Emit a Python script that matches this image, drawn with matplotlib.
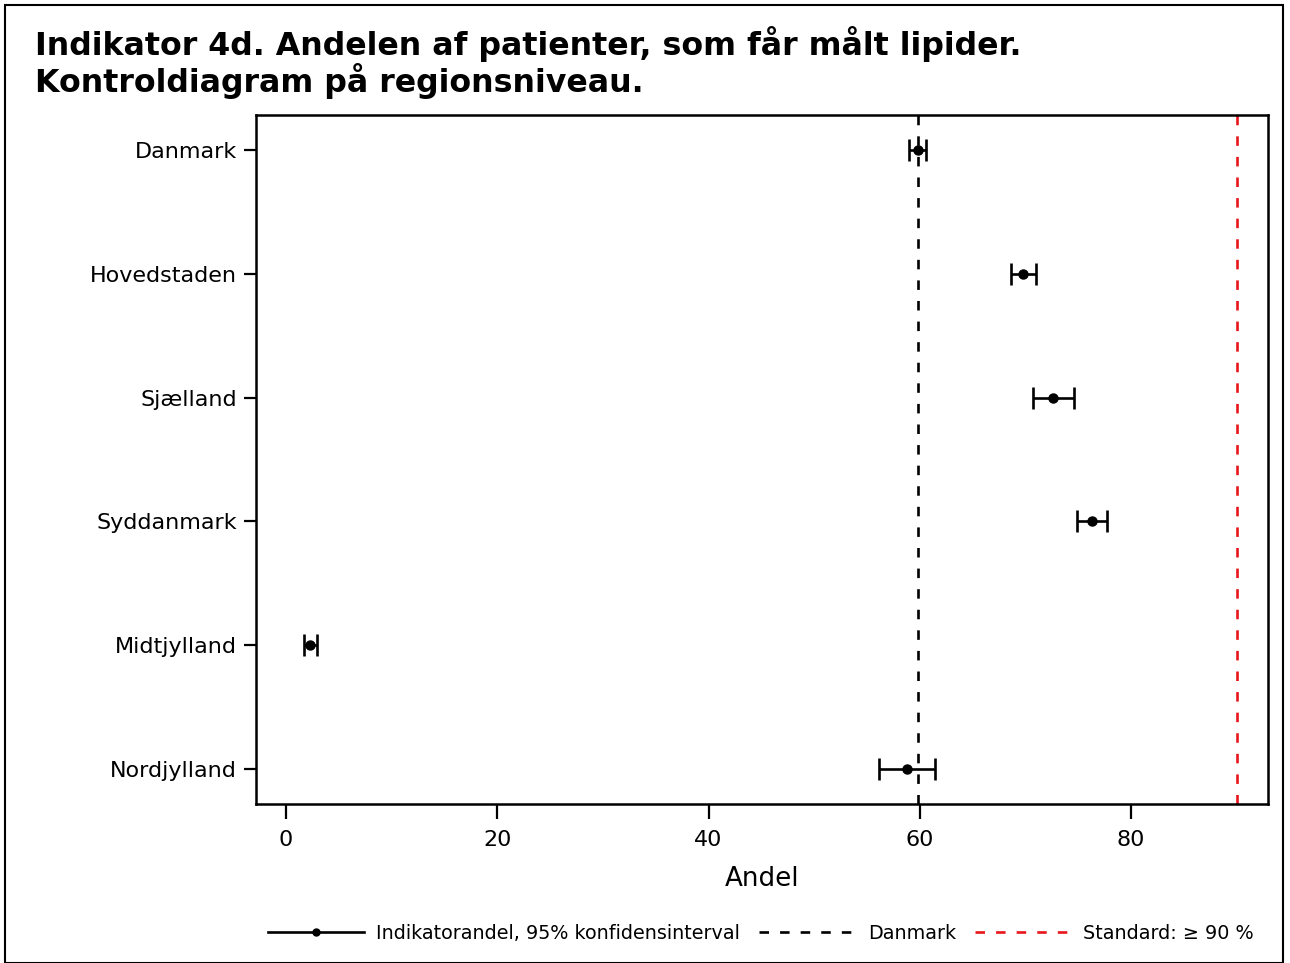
import matplotlib
matplotlib.use("Agg")
import matplotlib.pyplot as plt
from matplotlib.lines import Line2D
from matplotlib.patches import Rectangle

regions = ["Danmark", "Hovedstaden", "Sjælland", "Syddanmark", "Midtjylland", "Nordjylland"]
andel = [59.8, 69.8, 72.6, 76.3, 2.3, 58.8]
ci_low = [59.0, 68.6, 70.7, 74.9, 1.75, 56.1]
ci_high = [60.6, 71.0, 74.6, 77.7, 2.95, 61.4]
danmark_ref = 59.8
standard = 90
xticks = [0, 20, 40, 60, 80]
title_lines = ["Indikator 4d. Andelen af patienter, som får målt lipider.",
               "Kontroldiagram på regionsniveau."]

plt.rcParams['font.family'] = ['DejaVu Sans']

fig = plt.figure(figsize=(12.9, 9.63), dpi=100)
ax = fig.add_axes([256/1290, 1-804/963, (1268-256)/1290, (804-115)/963])

ypos = list(range(len(regions)))
xerr = [[a - l for a, l in zip(andel, ci_low)], [h - a for a, h in zip(andel, ci_high)]]
ax.errorbar(andel, ypos, xerr=xerr, fmt='o', color='black', ms=6.5, elinewidth=1.9,
            capsize=8, capthick=1.9, zorder=3)
dash = (0, (3.6, 4.2))
ax.axvline(danmark_ref, color='black', lw=1.9, linestyle=dash, zorder=2)
ax.axvline(standard, color='#e8161b', lw=1.9, linestyle=dash, zorder=2)

ax.set_ylim(5.28, -0.28)
ax.set_xlim(-2.84, 92.97)
ax.set_yticks(ypos)
ax.set_yticklabels(regions, fontsize=16)
ax.set_xticks(xticks)
ax.set_xticklabels([str(t) for t in xticks], fontsize=16)
ax.tick_params(axis='y', direction='out', length=9, width=1.6, pad=4.5)
ax.tick_params(axis='x', direction='out', length=11, width=1.6, pad=7.5)
for s in ax.spines.values():
    s.set_linewidth(1.8)
ax.set_xlabel("Andel", fontsize=18.8, labelpad=12)

fig.text(35/1290, 1-55/963, title_lines[0], fontsize=22.8, fontweight='bold', ha='left', va='baseline')
fig.text(35/1290, 1-92/963, title_lines[1], fontsize=22.8, fontweight='bold', ha='left', va='baseline')

handles = [
    Line2D([0], [0], color='black', lw=1.9, marker='o', ms=5),
    Line2D([0], [0], color='black', lw=1.9, linestyle=dash),
    Line2D([0], [0], color='#e8161b', lw=1.9, linestyle=dash),
]
labels = ["Indikatorandel, 95% konfidensinterval", "Danmark", "Standard: \u2265 90 %"]
fig.legend(handles, labels, loc='center', bbox_to_anchor=(761/1290, 1-933/963), ncol=3,
           frameon=False, fontsize=13.8, handlelength=5.0, handletextpad=0.65, columnspacing=1.0)

fig.add_artist(Rectangle((5/1290, 0), 1278/1290, 1-5/963, transform=fig.transFigure,
                         fill=False, edgecolor='black', lw=1.5))

fig.savefig("out.png", dpi=100)
